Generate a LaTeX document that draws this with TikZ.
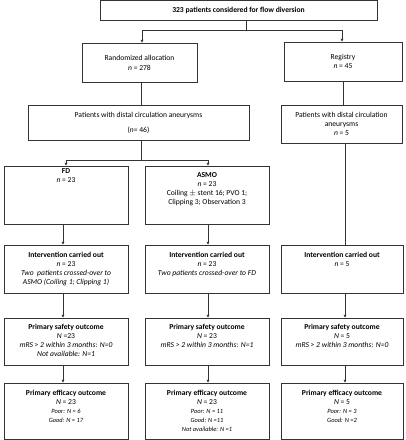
\documentclass[tikz,border=0pt]{standalone}
\usepackage{fontspec}
\setmainfont{Carlito}
\usetikzlibrary{positioning,arrows.meta}

\begin{document}
\begin{tikzpicture}[x=1pt, y=-1pt,
    box/.style 2 args={draw=black!80, line width=0.9pt, minimum width=#1, minimum height=#2,
        inner sep=0pt, align=center, font=\fontsize{7.6}{9}\selectfont},
    txt/.style={anchor=north, align=center, inner sep=0pt, font=\fontsize{7.6}{9}\selectfont},
    line/.style={draw=black!80, line width=0.9pt},
    arr/.style={line, -{Triangle[length=2.8pt,width=2.8pt]}}
]
    \useasboundingbox (0,0) rectangle (406,440);

    % Screening and allocation
    \node[box={277}{20}] (all) at (238.5,10.5) {\textbf{323 patients considered for flow diversion}};
    \node[box={115}{39}] (rand) at (139.5,62.5) {Randomized allocation\\[1pt] \textit{n} = 278};
    \node[box={118}{39}] (reg) at (343,61.5) {Registry\\ \textit{n} = 45};

    % Distal circulation aneurysms
    \node[box={221}{35}] (distL) at (138.5,122.5) {Patients with distal circulation aneurysms\\[6pt] (\textit{n}= 46)};
    \node[box={121}{38}] (distR) at (341.5,124) {Patients with distal circulation\\ aneurysms\\ \textit{n} = 5};

    % Treatment arms
    \node[box={124}{58}] (fd) at (66,195) {};
    \node[txt, below=2.5pt of fd.north] (fdt) {\textbf{FD}\\ \textit{n} = 23};
    \node[box={124}{58}] (asmo) at (207,195) {};
    \node[txt, below=7pt of asmo.north] (asmot) {\textbf{ASMO}\\ \textit{n} = 23\\ Coiling $\pm$ stent 16; PVO 1;\\ Clipping 3; Observation 3};

    % Intervention
    \node[box={124}{48}] (intL) at (66,269) {};
    \node[txt, below=7pt of intL.north] (intLt) {\textbf{Intervention carried out}\\ \textit{n} = 23\\
        \textit{Two\ \ patients crossed-over to}\\ \textit{ASMO (Coiling 1; Clipping 1)}};
    \node[box={124}{48}] (intM) at (207,269) {};
    \node[txt, below=7pt of intM.north] (intMt) {\textbf{Intervention carried out}\\ \textit{n} = 23\\
        \textit{Two patients crossed-over to FD}};
    \node[box={122}{48}] (intR) at (342,269) {};
    \node[txt, below=7pt of intR.north] (intRt) {\textbf{Intervention carried out}\\ \textit{n} = 5};

    % Safety
    \node[box={124}{47}] (safL) at (66,341.5) {};
    \node[txt, below=6pt of safL.north] (safLt) {\textbf{Primary safety outcome}\\ \textit{N} =23\\
        \textit{mRS > 2 within 3 months: N=0}\\ \textit{Not available: N=1}};
    \node[box={124}{47}] (safM) at (207,341.5) {};
    \node[txt, below=6pt of safM.north] (safMt) {\textbf{Primary safety outcome}\\ \textit{N} = 23\\
        \textit{mRS > 2 within 3 months: N=1}};
    \node[box={122}{47}] (safR) at (342,341.5) {};
    \node[txt, below=6pt of safR.north] (safRt) {\textbf{Primary safety outcome}\\ \textit{N} = 5\\
        \textit{mRS > 2 within 3 months: N=0}};

    % Efficacy
    \node[box={124}{56}] (effL) at (66,411) {};
    \node[txt, below=7pt of effL.north] (effLt) {\textbf{Primary efficacy outcome}\\ \textit{N} = 23\\
        {\fontsize{6.4}{8}\selectfont\textit{Poor: N = 6}}\\ {\fontsize{6.4}{8}\selectfont\textit{Good: N = 17}}};
    \node[box={124}{56}] (effM) at (207,411) {};
    \node[txt, below=7pt of effM.north] (effMt) {\textbf{Primary efficacy outcome}\\ \textit{N} = 23\\
        {\fontsize{6.4}{8}\selectfont\textit{Poor: N = 11}}\\ {\fontsize{6.4}{8}\selectfont\textit{Good: N =11}}\\
        {\fontsize{6.4}{8}\selectfont\textit{Not available: N =1}}};
    \node[box={122}{56}] (effR) at (342,411) {};
    \node[txt, below=7pt of effR.north] (effRt) {\textbf{Primary efficacy outcome}\\ \textit{N} = 5\\
        {\fontsize{6.4}{8}\selectfont\textit{Poor: N = 3}}\\ {\fontsize{6.4}{8}\selectfont\textit{Good: N =2}}};

    % Connectors
    \coordinate (split1) at (246,30);
    \coordinate (split2) at (141,160);
    \draw[line] ([xshift=7.5pt]all.south) -- (split1);
    \draw[arr] (split1) -| ([xshift=2.5pt]rand.north);
    \draw[arr] (split1) -| ([xshift=-1pt]reg.north);
    \draw[line] ([xshift=1.5pt]rand.south) -- ([xshift=1.5pt]rand.south |- distL.north);
    \draw[line] (reg.south) -- (reg.south |- distR.north);
    \draw[line] (distL.south -| split2) -- (split2);
    \draw[arr] (split2) -| (fd.north);
    \draw[arr] (split2) -| ([xshift=1pt]asmo.north);
    \draw[line] ([xshift=3.5pt]distR.south) -- ([xshift=3.5pt]distR.south |- intR.north);
    \draw[arr] ([xshift=-3pt]fd.south) -- ([xshift=-3pt]intL.north);
    \draw[arr] ([xshift=1pt]asmo.south) -- ([xshift=1pt]intM.north);
    \draw[arr] ([xshift=-3pt]intL.south) -- ([xshift=-3pt]safL.north);
    \draw[arr] ([xshift=1pt]intM.south) -- ([xshift=1pt]safM.north);
    \draw[arr] ([xshift=3pt]intR.south) -- ([xshift=3pt]safR.north);
    \draw[arr] ([xshift=-3pt]safL.south) -- ([xshift=-3pt]effL.north);
    \draw[arr] ([xshift=1pt]safM.south) -- ([xshift=1pt]effM.north);
    \draw[arr] ([xshift=3pt]safR.south) -- ([xshift=3pt]effR.north);
\end{tikzpicture}
\end{document}
